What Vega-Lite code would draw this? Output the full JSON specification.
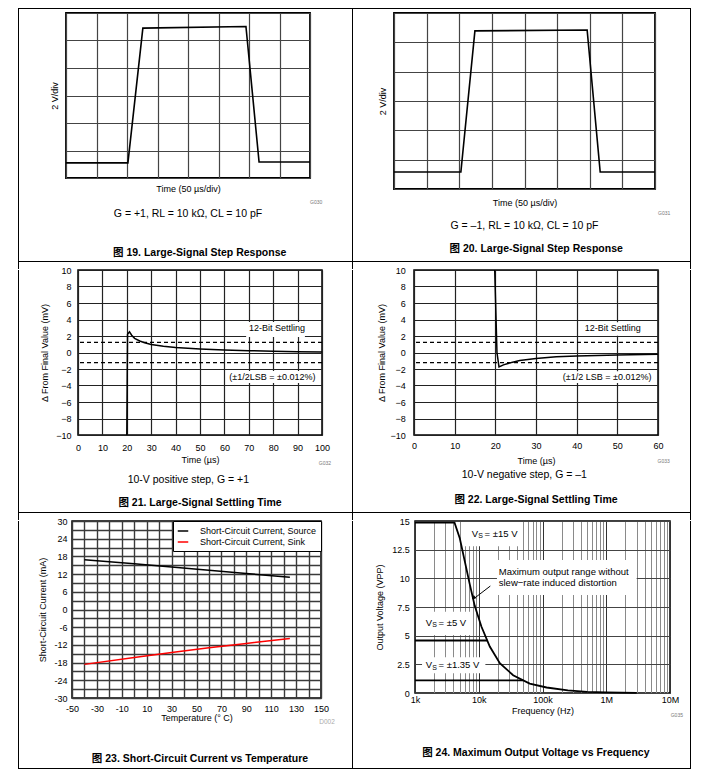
{
"$schema": "https://vega.github.io/schema/vega-lite/v6.json",
"background": "white",
"padding": {"left": 18, "top": 4, "right": 0, "bottom": 0},
"data": {"values": [{"k": 1}]},
"spacing": -4,
"bounds": "full",
"resolve": {"scale": {"color": "independent"}, "legend": {"color": "independent"}},
"config": {
  "view": {"stroke": null},
  "text": {"font": "Liberation Sans"},
  "axis": {"domain": false, "ticks": false, "tickSize": 0, "tickCount": 100, "grid": true, "gridOpacity": 1, "labelFont": "Liberation Sans", "labelFontSize": 9, "labelColor": "#000", "titleFont": "Liberation Sans", "titleFontSize": 9, "titleFontWeight": "normal", "titleColor": "#000", "labelFlush": false, "labelOverlap": false, "minExtent": 0, "labelBound": false},
  "title": {"orient": "bottom", "anchor": "middle", "frame": "group", "font": "Liberation Sans, Noto Sans CJK SC", "fontSize": 10.5, "fontWeight": "normal", "color": "#000", "subtitleFont": "Liberation Sans, Noto Sans CJK SC", "subtitleFontSize": 10.5, "subtitleFontWeight": "bold", "subtitleColor": "#000"}
},
"vconcat": [
  {"spacing": 0, "bounds": "flush", "hconcat": [
    {"width": 1, "height": 5, "view": {"fill": "#000", "stroke": null}, "mark": {"type": "text", "fontSize": 5, "baseline": "bottom", "dy": 0.5}, "encoding": {"text": {"value": ""}}},
    {"width": 333, "height": 1, "view": {"fill": "#000", "stroke": null}, "mark": {"type": "text", "fontSize": 5, "baseline": "bottom", "dy": 0.5}, "encoding": {"text": {"value": ""}}},
    {"width": 1, "height": 5, "view": {"fill": "#000", "stroke": null}, "mark": {"type": "text", "fontSize": 5, "baseline": "bottom", "dy": 0.5}, "encoding": {"text": {"value": ""}}},
    {"width": 337, "height": 1, "view": {"fill": "#000", "stroke": null}, "mark": {"type": "text", "fontSize": 5, "baseline": "bottom", "dy": 0.5}, "encoding": {"text": {"value": ""}}},
    {"width": 1, "height": 5, "view": {"fill": "#000", "stroke": null}, "mark": {"type": "text", "fontSize": 5, "baseline": "bottom", "dy": 0.5}, "encoding": {"text": {"value": ""}}}
  ]},
  {"spacing": 0, "bounds": "flush", "hconcat": [
    {"width": 1, "height": 248, "view": {"fill": "#000", "stroke": null}, "mark": {"type": "text", "fontSize": 5, "baseline": "bottom", "dy": 0.5}, "encoding": {"text": {"value": ""}}},
    {"width": 47, "height": 1, "view": {"stroke": null}, "mark": {"type": "text", "fontSize": 5, "baseline": "bottom", "dy": 0.5}, "encoding": {"text": {"value": ""}}},
    {
      "width": 244, "height": 165,
      "view": {"stroke": "#000", "strokeWidth": 1.8},
      "title": {"text": "G = +1, RL = 10 kΩ, CL = 10 pF", "subtitle": "\u200b\u00a0\u00a0\u00a0\u00a0\u00a0\u00a0\u00a0\u00a0图 19. Large-Signal Step Response", "offset": 3.7, "subtitlePadding": 28.5},
      "layer": [
        {"data": {"values": [{"t": 0, "v": 0.55}, {"t": 2.03, "v": 0.55}, {"t": 2.52, "v": 5.45}, {"t": 5.9, "v": 5.51}, {"t": 6.33, "v": 0.58}, {"t": 8, "v": 0.58}]},
         "mark": {"type": "line", "color": "#000", "strokeWidth": 1.6},
         "encoding": {
           "x": {"field": "t", "type": "quantitative", "scale": {"domain": [0, 8], "nice": false, "zero": false}, "axis": {"values": [0, 1, 2, 3, 4, 5, 6, 7, 8], "labels": false, "title": "Time (50 µs/div)", "titlePadding": 6, "gridColor": "#444", "gridWidth": 1.2}},
           "y": {"field": "v", "type": "quantitative", "scale": {"domain": [0, 6], "nice": false, "zero": false}, "axis": {"values": [0, 1, 2, 3, 4, 5, 6], "labels": false, "title": "2 V/div", "titlePadding": 7, "gridColor": "#444", "gridWidth": 1.2}}
         }},
        {"mark": {"type": "text", "fontSize": 5, "color": "#777"}, "encoding": {"x": {"datum": 8.2}, "y": {"datum": -0.87}, "text": {"value": "G030"}}}
      ]
    },
    {"width": 42, "height": 1, "view": {"stroke": null}, "mark": {"type": "text", "fontSize": 5, "baseline": "bottom", "dy": 0.5}, "encoding": {"text": {"value": ""}}},
    {"width": 1, "height": 248, "view": {"fill": "#000", "stroke": null}, "mark": {"type": "text", "fontSize": 5, "baseline": "bottom", "dy": 0.5}, "encoding": {"text": {"value": ""}}},
    {"width": 41, "height": 1, "view": {"stroke": null}, "mark": {"type": "text", "fontSize": 5, "baseline": "bottom", "dy": 0.5}, "encoding": {"text": {"value": ""}}},
    {
      "width": 261, "height": 176,
      "view": {"stroke": "#000", "strokeWidth": 1.8},
      "title": {"text": "G = –1, RL = 10 kΩ, CL = 10 pF", "subtitle": "\u200b\u00a0\u00a0\u00a0\u00a0\u00a0\u00a0\u00a0\u00a0图 20. Large-Signal Step Response", "offset": 4.7, "subtitlePadding": 12.2},
      "layer": [
        {"data": {"values": [{"t": 0, "v": 0.58}, {"t": 2.05, "v": 0.58}, {"t": 2.48, "v": 5.39}, {"t": 5.92, "v": 5.42}, {"t": 6.32, "v": 0.58}, {"t": 8, "v": 0.58}]},
         "mark": {"type": "line", "color": "#000", "strokeWidth": 1.6},
         "encoding": {
           "x": {"field": "t", "type": "quantitative", "scale": {"domain": [0, 8], "nice": false, "zero": false}, "axis": {"values": [0, 1, 2, 3, 4, 5, 6, 7, 8], "labels": false, "title": "Time (50 µs/div)", "titlePadding": 9, "gridColor": "#444", "gridWidth": 1.2}},
           "y": {"field": "v", "type": "quantitative", "scale": {"domain": [0, 6], "nice": false, "zero": false}, "axis": {"values": [0, 1, 2, 3, 4, 5, 6], "labels": false, "title": "2 V/div", "titlePadding": 7, "gridColor": "#444", "gridWidth": 1.2}}
         }},
        {"mark": {"type": "text", "fontSize": 5, "color": "#777"}, "encoding": {"x": {"datum": 8.28}, "y": {"datum": -0.83}, "text": {"value": "G031"}}}
      ]
    },
    {"width": 35, "height": 1, "view": {"stroke": null}, "mark": {"type": "text", "fontSize": 5, "baseline": "bottom", "dy": 0.5}, "encoding": {"text": {"value": ""}}},
    {"width": 1, "height": 248, "view": {"fill": "#000", "stroke": null}, "mark": {"type": "text", "fontSize": 5, "baseline": "bottom", "dy": 0.5}, "encoding": {"text": {"value": ""}}}
  ]},
  {"spacing": 0, "bounds": "flush", "hconcat": [
    {"width": 1, "height": 8, "view": {"fill": "#000", "stroke": null}, "mark": {"type": "text", "fontSize": 5, "baseline": "bottom", "dy": 0.5}, "encoding": {"text": {"value": ""}}},
    {"width": 333, "height": 1, "view": {"fill": "#000", "stroke": null}, "mark": {"type": "text", "fontSize": 5, "baseline": "bottom", "dy": 0.5}, "encoding": {"text": {"value": ""}}},
    {"width": 1, "height": 8, "view": {"fill": "#000", "stroke": null}, "mark": {"type": "text", "fontSize": 5, "baseline": "bottom", "dy": 0.5}, "encoding": {"text": {"value": ""}}},
    {"width": 337, "height": 1, "view": {"fill": "#000", "stroke": null}, "mark": {"type": "text", "fontSize": 5, "baseline": "bottom", "dy": 0.5}, "encoding": {"text": {"value": ""}}},
    {"width": 1, "height": 8, "view": {"fill": "#000", "stroke": null}, "mark": {"type": "text", "fontSize": 5, "baseline": "bottom", "dy": 0.5}, "encoding": {"text": {"value": ""}}}
  ]},
  {"spacing": 0, "bounds": "flush", "hconcat": [
    {"width": 1, "height": 242, "view": {"fill": "#000", "stroke": null}, "mark": {"type": "text", "fontSize": 5, "baseline": "bottom", "dy": 0.5}, "encoding": {"text": {"value": ""}}},
    {"width": 59, "height": 1, "view": {"stroke": null}, "mark": {"type": "text", "fontSize": 5, "baseline": "bottom", "dy": 0.5}, "encoding": {"text": {"value": ""}}},
    {
      "width": 244, "height": 165,
      "view": {"stroke": "#000", "strokeWidth": 1.5},
      "title": {"text": "10-V positive step, G = +1\u00a0\u00a0\u00a0\u00a0\u00a0\u00a0\u00a0\u00a0\u200b", "subtitle": "图 21. Large-Signal Settling Time", "offset": 9, "subtitlePadding": 12.8},
      "layer": [
        {"data": {"values": [{"lsb": 1.22}, {"lsb": -1.22}]},
         "mark": {"type": "rule", "color": "#000", "strokeWidth": 1.2, "strokeDash": [4, 3]},
         "encoding": {"y": {"field": "lsb", "type": "quantitative", "title": "Δ From Final Value (mV)"}}},
        {"mark": {"type": "rect", "fill": "#fff"}, "encoding": {"x": {"datum": 68.9}, "x2": {"datum": 93}, "y": {"datum": 1.88}, "y2": {"datum": 3.7}}},
        {"mark": {"type": "rect", "fill": "#fff"}, "encoding": {"x": {"datum": 61.5}, "x2": {"datum": 98}, "y": {"datum": -3.7}, "y2": {"datum": -2.24}}},
        {"data": {"values": [{"t": 20, "d": -10}, {"t": 20.3, "d": 2.2}, {"t": 21.1, "d": 2.5}, {"t": 22, "d": 2.1}, {"t": 23.2, "d": 1.72}, {"t": 25.3, "d": 1.39}, {"t": 27.3, "d": 1.19}, {"t": 30, "d": 0.97}, {"t": 35, "d": 0.75}, {"t": 40, "d": 0.6}, {"t": 50, "d": 0.42}, {"t": 60, "d": 0.3}, {"t": 70, "d": 0.22}, {"t": 80, "d": 0.16}, {"t": 90, "d": 0.1}, {"t": 100, "d": 0.06}]},
         "mark": {"type": "line", "color": "#000", "strokeWidth": 1.5},
         "encoding": {
           "x": {"field": "t", "type": "quantitative", "scale": {"domain": [0, 100], "nice": false, "zero": false}, "axis": {"values": [0, 10, 20, 30, 40, 50, 60, 70, 80, 90, 100], "format": "d", "labelPadding": 8.2, "title": "Time (µs)", "titlePadding": 3, "gridColor": "#222", "gridWidth": 1.2}},
           "y": {"field": "d", "type": "quantitative", "scale": {"domain": [-10, 10], "nice": false, "zero": false}, "axis": {"values": [-10, -8, -6, -4, -2, 0, 2, 4, 6, 8, 10], "format": "d", "labelPadding": 7, "title": "Δ From Final Value (mV)", "titlePadding": 6, "gridColor": "#222", "gridWidth": 1.2}}
         }},
        {"mark": {"type": "text", "fontSize": 9, "color": "#000"}, "encoding": {"x": {"datum": 81.6}, "y": {"datum": 2.97}, "text": {"value": "12-Bit Settling"}}},
        {"mark": {"type": "text", "fontSize": 9, "color": "#000"}, "encoding": {"x": {"datum": 79.7}, "y": {"datum": -2.97}, "text": {"value": "(±1/2LSB = ±0.012%)"}}},
        {"mark": {"type": "text", "fontSize": 5, "color": "#777"}, "encoding": {"x": {"datum": 101.2}, "y": {"datum": -13.4}, "text": {"value": "G032"}}}
      ]
    },
    {"width": 30, "height": 1, "view": {"stroke": null}, "mark": {"type": "text", "fontSize": 5, "baseline": "bottom", "dy": 0.5}, "encoding": {"text": {"value": ""}}},
    {"width": 1, "height": 242, "view": {"fill": "#000", "stroke": null}, "mark": {"type": "text", "fontSize": 5, "baseline": "bottom", "dy": 0.5}, "encoding": {"text": {"value": ""}}},
    {"width": 61, "height": 1, "view": {"stroke": null}, "mark": {"type": "text", "fontSize": 5, "baseline": "bottom", "dy": 0.5}, "encoding": {"text": {"value": ""}}},
    {
      "width": 244, "height": 165,
      "view": {"stroke": "#000", "strokeWidth": 1.5},
      "title": {"text": "10-V negative step, G = –1\u00a0\u00a0\u00a0\u00a0\u00a0\u00a0\u00a0\u00a0\u200b", "subtitle": "图 22. Large-Signal Settling Time", "offset": 4.7, "subtitlePadding": 15},
      "layer": [
        {"data": {"values": [{"lsb": 1.22}, {"lsb": -1.22}]},
         "mark": {"type": "rule", "color": "#000", "strokeWidth": 1.2, "strokeDash": [4, 3]},
         "encoding": {"y": {"field": "lsb", "type": "quantitative", "title": "Δ From Final Value (mV)"}}},
        {"mark": {"type": "rect", "fill": "#fff"}, "encoding": {"x": {"datum": 40.8}, "x2": {"datum": 57.3}, "y": {"datum": 2.04}, "y2": {"datum": 3.66}}},
        {"mark": {"type": "rect", "fill": "#fff"}, "encoding": {"x": {"datum": 34.9}, "x2": {"datum": 59}, "y": {"datum": -3.7}, "y2": {"datum": -2.28}}},
        {"data": {"values": [{"t": 19.85, "d": 10}, {"t": 20.4, "d": 0}, {"t": 20.9, "d": -1.75}, {"t": 22, "d": -1.5}, {"t": 24, "d": -1.2}, {"t": 26, "d": -0.97}, {"t": 30, "d": -0.72}, {"t": 35, "d": -0.52}, {"t": 40, "d": -0.42}, {"t": 50, "d": -0.3}, {"t": 60, "d": -0.2}]},
         "mark": {"type": "line", "color": "#000", "strokeWidth": 1.5, "clip": true},
         "encoding": {
           "x": {"field": "t", "type": "quantitative", "scale": {"domain": [0, 60], "nice": false, "zero": false}, "axis": {"values": [0, 10, 20, 30, 40, 50, 60], "format": "d", "labelPadding": 6.3, "title": "Time (µs)", "titlePadding": 5.8, "gridColor": "#222", "gridWidth": 1.2}},
           "y": {"field": "d", "type": "quantitative", "scale": {"domain": [-10, 10], "nice": false, "zero": false}, "axis": {"values": [-10, -8, -6, -4, -2, 0, 2, 4, 6, 8, 10], "format": "d", "labelPadding": 8.7, "title": "Δ From Final Value (mV)", "titlePadding": 3.5, "gridColor": "#222", "gridWidth": 1.2}}
         }},
        {"mark": {"type": "text", "fontSize": 9, "color": "#000"}, "encoding": {"x": {"datum": 48.9}, "y": {"datum": 3.0}, "text": {"value": "12-Bit Settling"}}},
        {"mark": {"type": "text", "fontSize": 9, "color": "#000"}, "encoding": {"x": {"datum": 47.5}, "y": {"datum": -2.97}, "text": {"value": "(±1/2 LSB = ±0.012%)"}}},
        {"mark": {"type": "text", "fontSize": 5, "color": "#777"}, "encoding": {"x": {"datum": 61.4}, "y": {"datum": -13.2}, "text": {"value": "G033"}}}
      ]
    },
    {"width": 32, "height": 1, "view": {"stroke": null}, "mark": {"type": "text", "fontSize": 5, "baseline": "bottom", "dy": 0.5}, "encoding": {"text": {"value": ""}}},
    {"width": 1, "height": 242, "view": {"fill": "#000", "stroke": null}, "mark": {"type": "text", "fontSize": 5, "baseline": "bottom", "dy": 0.5}, "encoding": {"text": {"value": ""}}}
  ]},
  {"spacing": 0, "bounds": "flush", "hconcat": [
    {"width": 1, "height": 8, "view": {"fill": "#000", "stroke": null}, "mark": {"type": "text", "fontSize": 5, "baseline": "bottom", "dy": 0.5}, "encoding": {"text": {"value": ""}}},
    {"width": 333, "height": 1, "view": {"fill": "#000", "stroke": null}, "mark": {"type": "text", "fontSize": 5, "baseline": "bottom", "dy": 0.5}, "encoding": {"text": {"value": ""}}},
    {"width": 1, "height": 8, "view": {"fill": "#000", "stroke": null}, "mark": {"type": "text", "fontSize": 5, "baseline": "bottom", "dy": 0.5}, "encoding": {"text": {"value": ""}}},
    {"width": 337, "height": 1, "view": {"fill": "#000", "stroke": null}, "mark": {"type": "text", "fontSize": 5, "baseline": "bottom", "dy": 0.5}, "encoding": {"text": {"value": ""}}},
    {"width": 1, "height": 8, "view": {"fill": "#000", "stroke": null}, "mark": {"type": "text", "fontSize": 5, "baseline": "bottom", "dy": 0.5}, "encoding": {"text": {"value": ""}}}
  ]},
  {"spacing": 0, "bounds": "flush", "resolve": {"scale": {"color": "independent"}, "legend": {"color": "independent"}}, "hconcat": [
    {"width": 1, "height": 247, "view": {"fill": "#000", "stroke": null}, "mark": {"type": "text", "fontSize": 5, "baseline": "bottom", "dy": 0.5}, "encoding": {"text": {"value": ""}}},
    {"width": 53, "height": 1, "view": {"stroke": null}, "mark": {"type": "text", "fontSize": 5, "baseline": "bottom", "dy": 0.5}, "encoding": {"text": {"value": ""}}},
    {
      "width": 249, "height": 177,
      "view": {"stroke": "#000", "strokeWidth": 1.5},
      "title": {"text": "图 23. Short-Circuit Current vs Temperature", "fontWeight": "bold", "offset": 28.5, "dx": 3.5},
      "layer": [
        {"data": {"values": [
           {"T": -40, "I": 16.9, "s": "Short-Circuit Current, Source"}, {"T": 0, "I": 15.5, "s": "Short-Circuit Current, Source"}, {"T": 30, "I": 14.4, "s": "Short-Circuit Current, Source"}, {"T": 60, "I": 13.3, "s": "Short-Circuit Current, Source"}, {"T": 90, "I": 12.2, "s": "Short-Circuit Current, Source"}, {"T": 125, "I": 10.9, "s": "Short-Circuit Current, Source"},
           {"T": -40, "I": -18.6, "s": "Short-Circuit Current, Sink"}, {"T": 0, "I": -16.3, "s": "Short-Circuit Current, Sink"}, {"T": 30, "I": -14.6, "s": "Short-Circuit Current, Sink"}, {"T": 60, "I": -13.0, "s": "Short-Circuit Current, Sink"}, {"T": 90, "I": -11.5, "s": "Short-Circuit Current, Sink"}, {"T": 125, "I": -9.8, "s": "Short-Circuit Current, Sink"}
         ]},
         "mark": {"type": "line", "strokeWidth": 1.5},
         "encoding": {
           "x": {"field": "T", "type": "quantitative", "scale": {"domain": [-50, 150], "nice": false, "zero": false}, "axis": {"values": [-50, -40, -30, -20, -10, 0, 10, 20, 30, 40, 50, 60, 70, 80, 90, 100, 110, 120, 130, 140, 150], "labelExpr": "(datum.value + 50) % 20 == 0 ? '' + datum.value : ''", "labelPadding": 6.2, "title": "Temperature (° C)", "titlePadding": 0.5, "gridColor": "#3a3a3a", "gridWidth": 1.4}},
           "y": {"field": "I", "type": "quantitative", "scale": {"domain": [-30, 30], "nice": false, "zero": false}, "axis": {"values": [-30, -27, -24, -21, -18, -15, -12, -9, -6, -3, 0, 3, 6, 9, 12, 15, 18, 21, 24, 27, 30], "labelExpr": "datum.value % 6 == 0 ? '' + datum.value : ''", "labelPadding": 5, "title": "Short-Circuit Current (mA)", "titlePadding": 6.8, "gridColor": "#3a3a3a", "gridWidth": 1.4}},
           "color": {"field": "s", "type": "nominal", "scale": {"domain": ["Short-Circuit Current, Source", "Short-Circuit Current, Sink"], "range": ["#000000", "#ff0000"]},
             "legend": {"orient": "top-right", "offset": 0, "title": null, "fillColor": "#fff", "strokeColor": "#000", "padding": 4, "symbolType": "stroke", "symbolStrokeWidth": 1.5, "symbolSize": 110, "labelFont": "Liberation Sans", "labelFontSize": 9, "labelColor": "#000", "labelOffset": 11, "rowPadding": 0, "labelLimit": 300}}
         }},
        {"mark": {"type": "text", "fontSize": 6.5, "color": "#aaa"}, "encoding": {"x": {"datum": 154.8}, "y": {"datum": -38.3}, "text": {"value": "D002"}}}
      ]
    },
    {"width": 31, "height": 1, "view": {"stroke": null}, "mark": {"type": "text", "fontSize": 5, "baseline": "bottom", "dy": 0.5}, "encoding": {"text": {"value": ""}}},
    {"width": 1, "height": 247, "view": {"fill": "#000", "stroke": null}, "mark": {"type": "text", "fontSize": 5, "baseline": "bottom", "dy": 0.5}, "encoding": {"text": {"value": ""}}},
    {"width": 62, "height": 1, "view": {"stroke": null}, "mark": {"type": "text", "fontSize": 5, "baseline": "bottom", "dy": 0.5}, "encoding": {"text": {"value": ""}}},
    {
      "width": 255, "height": 172,
      "view": {"stroke": "#000", "strokeWidth": 1.5},
      "title": {"text": "图 24. Maximum Output Voltage vs Frequency", "fontWeight": "bold", "offset": 29.7, "dx": -6.7},
      "layer": [
        {"mark": {"type": "rect", "fill": "#fff"}, "encoding": {"x": {"datum": 6000}, "x2": {"datum": 46500}, "y": {"datum": 12.8}, "y2": {"datum": 14.92}}},
        {"mark": {"type": "rect", "fill": "#fff"}, "encoding": {"x": {"datum": 19300}, "x2": {"datum": 3000000}, "y": {"datum": 8.55}, "y2": {"datum": 11.6}}},
        {"mark": {"type": "rect", "fill": "#fff"}, "encoding": {"x": {"datum": 1290}, "x2": {"datum": 7840}, "y": {"datum": 5.06}, "y2": {"datum": 7.09}}},
        {"mark": {"type": "rect", "fill": "#fff"}, "encoding": {"x": {"datum": 1290}, "x2": {"datum": 12700}, "y": {"datum": 1.72}, "y2": {"datum": 3.11}}},
        {"data": {"values": [
           {"f": 1000, "v": 14.85, "s": "15"}, {"f": 4170, "v": 14.85, "s": "15"}, {"f": 5040, "v": 13.5, "s": "15"}, {"f": 6030, "v": 11.5, "s": "15"}, {"f": 7220, "v": 9.5, "s": "15"}, {"f": 8650, "v": 7.6, "s": "15"}, {"f": 11000, "v": 5.8, "s": "15"}, {"f": 14900, "v": 4.05, "s": "15"}, {"f": 21400, "v": 2.6, "s": "15"}, {"f": 34600, "v": 1.55, "s": "15"}, {"f": 63000, "v": 0.82, "s": "15"}, {"f": 116000, "v": 0.48, "s": "15"}, {"f": 250000, "v": 0.22, "s": "15"}, {"f": 500000, "v": 0.1, "s": "15"}, {"f": 1000000, "v": 0.05, "s": "15"}, {"f": 3000000, "v": 0.01, "s": "15"},
           {"f": 1000, "v": 4.58, "s": "5"}, {"f": 13700, "v": 4.58, "s": "5"},
           {"f": 1000, "v": 1.1, "s": "1.35"}, {"f": 50000, "v": 1.1, "s": "1.35"}
         ]},
         "mark": {"type": "line", "color": "#000", "strokeWidth": 1.8},
         "encoding": {
           "x": {"field": "f", "type": "quantitative", "scale": {"type": "log", "domain": [1000, 10000000], "nice": false}, "axis": {"values": [1000, 2000, 3000, 4000, 5000, 6000, 7000, 8000, 9000, 10000, 20000, 30000, 40000, 50000, 60000, 70000, 80000, 90000, 100000, 200000, 300000, 400000, 500000, 600000, 700000, 800000, 900000, 1000000, 2000000, 3000000, 4000000, 5000000, 6000000, 7000000, 8000000, 9000000, 10000000], "labelExpr": "datum.value == 1000 ? '1k' : datum.value == 10000 ? '10k' : datum.value == 100000 ? '100k' : datum.value == 1000000 ? '1M' : datum.value == 10000000 ? '10M' : ''", "labelPadding": 2.5, "title": "Frequency (Hz)", "titlePadding": 1.8, "gridColor": {"condition": {"test": "indexof([1000, 10000, 100000, 1000000, 10000000], datum.value) >= 0", "value": "#333"}, "value": "#8a8a8a"}, "gridWidth": 1}},
           "y": {"field": "v", "type": "quantitative", "scale": {"domain": [0, 15], "nice": false, "zero": false}, "axis": {"values": [0, 2.5, 5, 7.5, 10, 12.5, 15], "format": "~g", "labelPadding": 5.7, "title": "Output Voltage (VPP)", "titlePadding": 7, "gridColor": "#444", "gridWidth": 1.1}},
           "detail": {"field": "s", "type": "nominal"}
         }},
        {"mark": {"type": "text", "fontSize": 9.5, "align": "right", "color": "#000"}, "encoding": {"x": {"datum": 9750}, "y": {"datum": 13.87}, "text": {"value": "V"}}},
        {"mark": {"type": "text", "fontSize": 7, "align": "left", "dx": 0.3, "dy": 2.5, "color": "#000"}, "encoding": {"x": {"datum": 9750}, "y": {"datum": 13.87}, "text": {"value": "S"}}},
        {"mark": {"type": "text", "fontSize": 9.5, "align": "left", "dx": 6.5, "color": "#000"}, "encoding": {"x": {"datum": 9750}, "y": {"datum": 13.87}, "text": {"value": "\u00a0= ±15 V"}}},
        {"mark": {"type": "text", "fontSize": 9.5, "align": "right", "color": "#000"}, "encoding": {"x": {"datum": 1849}, "y": {"datum": 6.13}, "text": {"value": "V"}}},
        {"mark": {"type": "text", "fontSize": 7, "align": "left", "dx": 0.3, "dy": 2.5, "color": "#000"}, "encoding": {"x": {"datum": 1849}, "y": {"datum": 6.13}, "text": {"value": "S"}}},
        {"mark": {"type": "text", "fontSize": 9.5, "align": "left", "dx": 6.5, "color": "#000"}, "encoding": {"x": {"datum": 1849}, "y": {"datum": 6.13}, "text": {"value": "\u00a0= ±5 V"}}},
        {"mark": {"type": "text", "fontSize": 9.5, "align": "right", "color": "#000"}, "encoding": {"x": {"datum": 1849}, "y": {"datum": 2.44}, "text": {"value": "V"}}},
        {"mark": {"type": "text", "fontSize": 7, "align": "left", "dx": 0.3, "dy": 2.5, "color": "#000"}, "encoding": {"x": {"datum": 1849}, "y": {"datum": 2.44}, "text": {"value": "S"}}},
        {"mark": {"type": "text", "fontSize": 9.5, "align": "left", "dx": 6.5, "color": "#000"}, "encoding": {"x": {"datum": 1849}, "y": {"datum": 2.44}, "text": {"value": "\u00a0= ±1.35 V"}}},
        {"mark": {"type": "text", "fontSize": 9.5, "align": "left", "color": "#000"}, "encoding": {"x": {"datum": 20600}, "y": {"datum": 10.58}, "text": {"value": "Maximum output range without"}}},
        {"mark": {"type": "text", "fontSize": 9.5, "align": "left", "color": "#000"}, "encoding": {"x": {"datum": 20600}, "y": {"datum": 9.56}, "text": {"value": "slew−rate induced distortion"}}},
        {"mark": {"type": "rule", "color": "#000", "strokeWidth": 1}, "encoding": {"x": {"datum": 15200}, "x2": {"datum": 8130}, "y": {"datum": 9.33}, "y2": {"datum": 8.17}}},
        {"mark": {"type": "point", "shape": "triangle-up", "filled": true, "color": "#000", "size": 18, "angle": 232, "opacity": 1}, "encoding": {"x": {"datum": 8300}, "y": {"datum": 8.3}}},
        {"mark": {"type": "text", "fontSize": 5, "color": "#777"}, "encoding": {"x": {"datum": 12800000}, "y": {"datum": -1.95}, "text": {"value": "G035"}}}
      ]
    },
    {"width": 20, "height": 1, "view": {"stroke": null}, "mark": {"type": "text", "fontSize": 5, "baseline": "bottom", "dy": 0.5}, "encoding": {"text": {"value": ""}}},
    {"width": 1, "height": 247, "view": {"fill": "#000", "stroke": null}, "mark": {"type": "text", "fontSize": 5, "baseline": "bottom", "dy": 0.5}, "encoding": {"text": {"value": ""}}}
  ]},
  {"spacing": 0, "bounds": "flush", "hconcat": [
    {"width": 1, "height": 1, "view": {"fill": "#000", "stroke": null}, "mark": {"type": "text", "fontSize": 5, "baseline": "bottom", "dy": 0.5}, "encoding": {"text": {"value": ""}}},
    {"width": 333, "height": 1, "view": {"fill": "#000", "stroke": null}, "mark": {"type": "text", "fontSize": 5, "baseline": "bottom", "dy": 0.5}, "encoding": {"text": {"value": ""}}},
    {"width": 1, "height": 1, "view": {"fill": "#000", "stroke": null}, "mark": {"type": "text", "fontSize": 5, "baseline": "bottom", "dy": 0.5}, "encoding": {"text": {"value": ""}}},
    {"width": 337, "height": 1, "view": {"fill": "#000", "stroke": null}, "mark": {"type": "text", "fontSize": 5, "baseline": "bottom", "dy": 0.5}, "encoding": {"text": {"value": ""}}},
    {"width": 1, "height": 1, "view": {"fill": "#000", "stroke": null}, "mark": {"type": "text", "fontSize": 5, "baseline": "bottom", "dy": 0.5}, "encoding": {"text": {"value": ""}}}
  ]}
]
}
